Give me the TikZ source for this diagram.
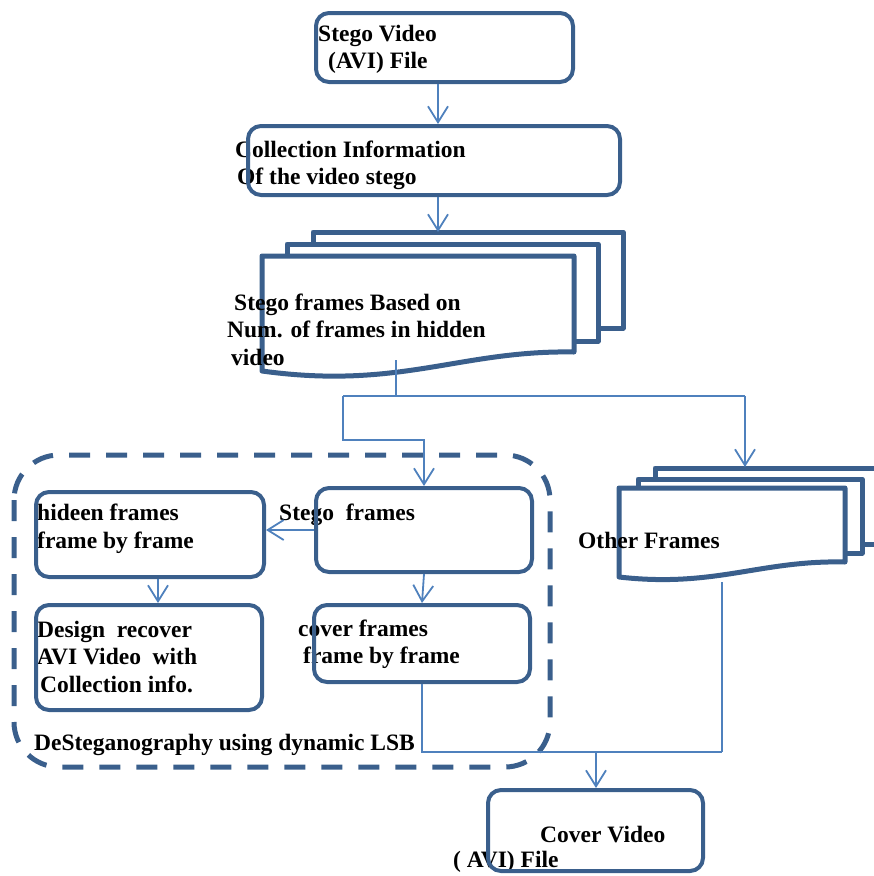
\documentclass[tikz,border=0pt]{standalone}
\usepackage{fontspec}
\setmainfont{Liberation Serif}
\usetikzlibrary{arrows.meta}
\definecolor{boxblue}{HTML}{3A5F8C}
\definecolor{linkblue}{HTML}{4F81BD}
\begin{document}
\begin{tikzpicture}[x=1pt,y=-1pt,
 rbox/.style={draw=boxblue,line width=4pt,rounded corners=13pt,inner sep=0pt,rectangle},
 docpage/.style={draw=boxblue,line width=5pt,fill=white,line join=round},
 conn/.style={draw=linkblue,line width=1.8pt},
 tip/.style={-{Straight Barb[length=16pt,width=20pt]}},
 lbl/.style={anchor=base west,inner sep=0pt,font=\fontsize{23.5pt}{28pt}\selectfont\bfseries}]
\useasboundingbox (0,0) rectangle (874,876);
% stacked pages: stego frames
\draw[docpage] (313,232) rectangle (623,328);
\draw[docpage] (287,244) rectangle (598,341);
\draw[docpage] (262,256) -- (574,256) -- (574,352) .. controls (460,350) and (400,390) .. (262,371) -- cycle;
% stacked pages: other frames
\draw[docpage] (655,468) rectangle (890,544);
\draw[docpage] (638,479) rectangle (862,553);
\draw[docpage] (619,488) -- (845,488) -- (845,562) .. controls (760,560) and (715,588) .. (619,577) -- cycle;
% texts
\node[lbl] (t1a) at (318,41) {Stego Video};
\node[lbl] (t1b) at (328,68) {(AVI) File};
\node[lbl] (t2a) at (235,157) {Collection Information};
\node[lbl] (t2b) at (237,184) {Of the video stego};
\node[lbl] (t3a) at (234,310) {Stego frames Based on};
\node[lbl] (t3b) at (227,337) {Num. of frames in hidden};
\node[lbl] (t3c) at (231,365) {video};
\node[lbl] (t4a) at (37,520) {hideen frames};
\node[lbl] (t4b) at (37,548) {frame by frame};
\node[lbl] (t5a) at (279,520) {Stego~ frames};
\node[lbl] (t6a) at (37,637) {Design~ recover};
\node[lbl] (t6b) at (37,664) {AVI Video~ with};
\node[lbl] (t6c) at (40,692) {Collection info.};
\node[lbl] (t7a) at (298,636) {cover frames};
\node[lbl] (t7b) at (303,663) {frame by frame};
\node[lbl] (t8) at (34,750) {DeSteganography using dynamic LSB};
\node[lbl] (t9) at (578,548) {Other Frames};
\node[lbl] (t10a) at (540,842) {Cover Video};
\node[lbl] (t10b) at (453,867) {( AVI) File};
% boxes
\node[rbox,minimum width=257pt,minimum height=69pt] (sv) at (444.5,47.5) {};
\node[rbox,minimum width=372pt,minimum height=69pt] (ci) at (434,160.5) {};
\node[rbox,minimum width=228pt,minimum height=85pt] (hf) at (150,534.5) {};
\node[rbox,minimum width=216pt,minimum height=84pt] (sf) at (424,530) {};
\node[rbox,minimum width=226pt,minimum height=105pt] (dr) at (149,657.5) {};
\node[rbox,minimum width=216pt,minimum height=77pt] (cf) at (422,643.5) {};
\node[rbox,minimum width=215pt,minimum height=81pt] (cv) at (595.5,830.5) {};
% dashed container
\draw[draw=boxblue,line width=5pt,dash pattern=on 21pt off 16pt,rounded corners=45pt] (14,455) rectangle (550,767);
% coordinates
\coordinate (xa) at (438,0);
\coordinate (sdtop) at (438,232);
\coordinate (sdbot) at (396,360);
\coordinate (jS) at (396,396);
\coordinate (jL) at (343,396);
\coordinate (jR) at (745,396);
\coordinate (bL) at (343,440);
\coordinate (odtop) at (745,467);
\coordinate (odbot) at (722,582);
\coordinate (jB) at (722,752);
\coordinate (xh) at (158,0);
\coordinate (xc) at (596,0);
% connectors
\draw[conn,tip] (sv.south -| xa) -- (ci.north -| xa);
\draw[conn,tip] (ci.south -| xa) -- (sdtop);
\draw[conn] (sdbot) -- (jS);
\draw[conn] (jL) -- (jR);
\draw[conn,tip] (jL) -- (bL) -- (bL -| sf.north) -- (sf.north);
\draw[conn,tip] (jR) -- (odtop);
\draw[conn,tip] (sf.west) -- (sf.west -| hf.east);
\draw[conn,tip] (hf.south -| xh) -- (dr.north -| xh);
\draw[conn,tip] (sf.south) -- (cf.north);
\draw[conn] (cf.south) -- (cf.south |- jB) -- (jB);
\draw[conn] (odbot) -- (jB);
\draw[conn,tip] (jB -| xc) -- (cv.north -| xc);
\end{tikzpicture}
\end{document}
